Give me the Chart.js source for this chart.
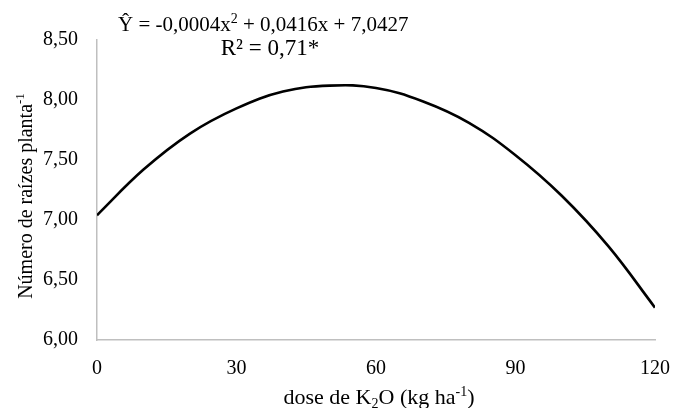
<!DOCTYPE html>
<html>
<head>
<meta charset="utf-8">
<script src="https://cdn.jsdelivr.net/npm/chart.js@4/dist/chart.umd.min.js"></script>
<style>
  html, body { margin: 0; padding: 0; background: #fff; }
  #wrap { width: 673px; height: 408px; position: relative; }
</style>
</head>
<body>
<div id="wrap"><canvas id="c" width="673" height="408"></canvas></div>
<script>
// Values
const doses = [0, 10, 20, 30, 40, 50, 60, 70, 80, 90, 100, 110, 120];
const raizes = [7.04, 7.42, 7.72, 7.93, 8.07, 8.12, 8.10, 7.99, 7.81, 7.54, 7.20, 6.78, 6.27];
const xTicks = [0, 30, 60, 90, 120];
const yTicks = [6.0, 6.5, 7.0, 7.5, 8.0, 8.5];

const FONT = '"Liberation Serif", "Times New Roman", serif';

// draws a sequence of [text, kind] parts; kind: 'n' normal, 'sup', 'sub'
function drawParts(ctx, parts, x, y, size, align) {
  const small = Math.round(size * 0.65);
  let total = 0;
  const widths = parts.map(([t, k]) => {
    ctx.font = (k === 'n' ? size : small) + 'px ' + FONT;
    const w = ctx.measureText(t).width;
    total += w;
    return w;
  });
  let cx = align === 'center' ? x - total / 2 : x;
  ctx.textAlign = 'left';
  ctx.textBaseline = 'alphabetic';
  parts.forEach(([t, k], i) => {
    ctx.font = (k === 'n' ? size : small) + 'px ' + FONT;
    let dy = 0;
    if (k === 'sup') dy = -size * 0.38;
    if (k === 'sub') dy = size * 0.2;
    ctx.fillText(t, cx, y + dy);
    cx += widths[i];
  });
}

const textPlugin = {
  id: 'texts',
  afterDraw(chart) {
    const ctx = chart.ctx;
    ctx.save();
    ctx.fillStyle = '#000';
    // equation
    drawParts(ctx, [['Ŷ = -0,0004x', 'n'], ['2', 'sup'], [' + 0,0416x + 7,0427', 'n']], 118, 31, 21, 'left');
    drawParts(ctx, [['R² = 0,71*', 'n']], 270, 55, 23, 'center');
    // x title
    drawParts(ctx, [['dose de K', 'n'], ['2', 'sub'], ['O (kg ha', 'n'], ['-1', 'sup'], [')', 'n']],
      379, 404, 22, 'center');
    // y title rotated
    ctx.translate(32, 196);
    ctx.rotate(-Math.PI / 2);
    drawParts(ctx, [['Número de raízes planta', 'n'], ['-1', 'sup']], 0, 0, 20, 'center');
    ctx.restore();
  }
};

new Chart(document.getElementById('c'), {
  type: 'line',
  data: {
    datasets: [{
      data: doses.map((d, i) => ({ x: d, y: raizes[i] })),
      borderColor: '#000',
      borderWidth: 2.6,
      pointRadius: 0,
      tension: 0.4,
      fill: false
    }]
  },
  options: {
    responsive: false,
    animation: false,
    devicePixelRatio: 1,
    layout: { padding: { top: 40, right: 18, left: 0, bottom: 0 } },
    plugins: { legend: { display: false }, tooltip: { enabled: false } },
    scales: {
      x: {
        type: 'linear',
        min: 0, max: 120,
        afterBuildTicks: s => { s.ticks = xTicks.map(v => ({ value: v })); },
        afterFit: s => { s.height = 68; s.paddingRight = 14; s.paddingLeft = 0; },
        grid: { display: false, drawTicks: false },
        border: { display: true, color: '#bfbfbf', width: 1.5 },
        ticks: { color: '#000', padding: 17, font: { family: FONT, size: 20 }, maxRotation: 0 }
      },
      y: {
        min: 6, max: 8.5,
        afterBuildTicks: s => { s.ticks = yTicks.map(v => ({ value: v })); },
        afterFit: s => { s.width = 97; },
        grid: { display: false, drawTicks: false },
        border: { display: true, color: '#bfbfbf', width: 1.5 },
        ticks: {
          color: '#000', padding: 19, font: { family: FONT, size: 20 },
          callback: v => v.toFixed(2).replace('.', ',')
        }
      }
    }
  },
  plugins: [textPlugin]
});
</script>
</body>
</html>
